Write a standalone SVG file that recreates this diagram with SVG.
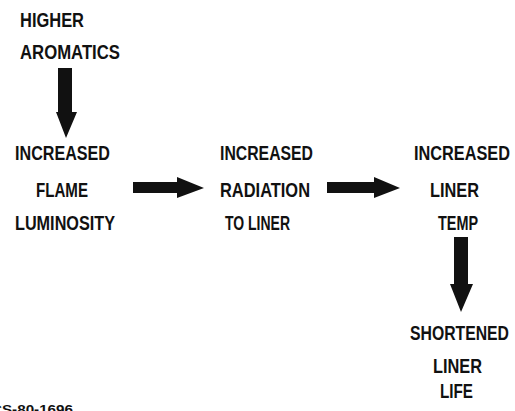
<svg xmlns="http://www.w3.org/2000/svg" width="515" height="411" viewBox="0 0 515 411">
<style>
.t{font-family:"Liberation Sans",Arial,sans-serif;font-weight:bold;font-size:21px;fill:#111;}
.f{font-family:"Liberation Sans",Arial,sans-serif;font-weight:bold;font-size:13px;fill:#111;}
.a{fill:#111;}
</style>
<rect width="515" height="411" fill="#fff"/>
<g id="higher-aromatics">
<text class="t" x="20" y="27" textLength="64" lengthAdjust="spacingAndGlyphs">HIGHER</text>
<text class="t" x="20" y="59" textLength="100" lengthAdjust="spacingAndGlyphs">AROMATICS</text>
</g>
<g id="flame-luminosity">
<text class="t" x="15" y="160" textLength="95" lengthAdjust="spacingAndGlyphs">INCREASED</text>
<text class="t" x="36" y="197" textLength="52" lengthAdjust="spacingAndGlyphs">FLAME</text>
<text class="t" x="15" y="230" textLength="100" lengthAdjust="spacingAndGlyphs">LUMINOSITY</text>
</g>
<g id="radiation">
<text class="t" x="220" y="160" textLength="93" lengthAdjust="spacingAndGlyphs">INCREASED</text>
<text class="t" x="220" y="197" textLength="90" lengthAdjust="spacingAndGlyphs">RADIATION</text>
<text class="t" x="225" y="230" textLength="65" lengthAdjust="spacingAndGlyphs">TO LINER</text>
</g>
<g id="liner-temp">
<text class="t" x="414" y="160" textLength="96" lengthAdjust="spacingAndGlyphs">INCREASED</text>
<text class="t" x="430" y="197" textLength="49" lengthAdjust="spacingAndGlyphs">LINER</text>
<text class="t" x="438" y="230" textLength="40" lengthAdjust="spacingAndGlyphs">TEMP</text>
</g>
<g id="shortened-life">
<text class="t" x="410" y="340" textLength="99" lengthAdjust="spacingAndGlyphs">SHORTENED</text>
<text class="t" x="433" y="373" textLength="49" lengthAdjust="spacingAndGlyphs">LINER</text>
<text class="t" x="440" y="398" textLength="33" lengthAdjust="spacingAndGlyphs">LIFE</text>
</g>
<g id="connectors">
<polygon class="a" points="58,68 72,68 72,112 77,112 66,138 56,112 58,112"/>
<polygon class="a" points="133,182 177,182 177,177 204,188 177,198 177,193 133,193"/>
<polygon class="a" points="327,182 374,182 374,177 400,188 374,198 374,193 327,193"/>
<polygon class="a" points="454,237 468,237 468,284 473,284 461,312 450,284 454,284"/>
</g>
<text class="f" x="-9" y="414" textLength="82" lengthAdjust="spacingAndGlyphs">CS-80-1696</text>
</svg>
